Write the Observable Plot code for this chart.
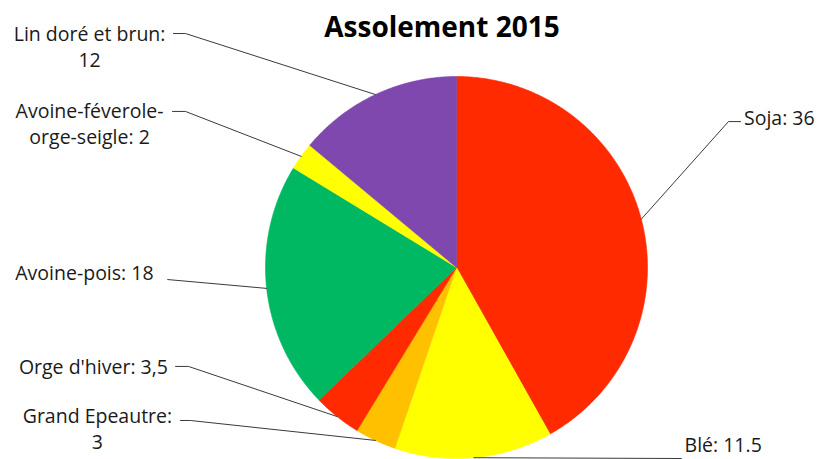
<!DOCTYPE html>
<html>
<head>
<meta charset="utf-8">
<script src="https://cdn.jsdelivr.net/npm/d3@7"></script>
<script src="https://cdn.jsdelivr.net/npm/@observablehq/plot@0.6"></script>
<style>
  html, body { margin: 0; padding: 0; background: #fff; }
  #chart svg { display: block; }
</style>
</head>
<body>
<div id="chart"></div>
<script>
// ---- data ----
const title = "Assolement 2015";
const categories = ["Soja", "Blé", "Grand Epeautre", "Orge d'hiver", "Avoine-pois", "Avoine-féverole-orge-seigle", "Lin doré et brun"];
const values = [36, 11.5, 3, 3.5, 18, 2, 12];
const valueLabels = ["36", "11.5", "3", "3,5", "18", "2", "12"];
const labelTexts = ["Soja: 36", "Blé: 11.5", "Grand Epeautre:\n3", "Orge d'hiver: 3,5", "Avoine-pois: 18", "Avoine-féverole-\norge-seigle: 2", "Lin doré et brun:\n12"];
const colors = ["#FF2A00", "#FFFF00", "#FFC000", "#FF2A00", "#00B862", "#FFFF00", "#7F48AE"];

// ---- layout (label placement in radius units) ----
const labelLayout = [
  {elbow: [1.424, 0.764], end: [1.487, 0.764], text: [1.505, 0.777], anchor: "start"},
  {elbow: [1.178, -1.0], end: [1.178, -1.0], text: [1.194, -0.932], anchor: "start"},
  {elbow: [-1.393, -0.801], end: [-1.445, -0.801], text: [-1.880, -0.838], anchor: "middle"},
  {elbow: [-1.403, -0.518], end: [-1.471, -0.518], text: [-1.901, -0.516], anchor: "middle"},
  {elbow: [-1.513, -0.063], end: [-1.513, -0.063], text: [-1.948, -0.019], anchor: "middle"},
  {elbow: [-1.419, 0.817], end: [-1.487, 0.817], text: [-1.921, 0.759], anchor: "middle"},
  {elbow: [-1.419, 1.225], end: [-1.482, 1.225], text: [-1.921, 1.162], anchor: "middle"}
];

// ---- build slices ----
const total = d3.sum(values);
let cum = 0;
const slicePts = [];
const leaderPts = [];
const labels = [];
categories.forEach((name, i) => {
  const a0 = cum / total * 2 * Math.PI;
  cum += values[i];
  const a1 = cum / total * 2 * Math.PI;
  const n = Math.max(2, Math.ceil((a1 - a0) / (Math.PI / 360)));
  slicePts.push({name, color: colors[i], x: 0, y: 0});
  for (let k = 0; k <= n; k++) {
    const a = a0 + (a1 - a0) * k / n;
    slicePts.push({name, color: colors[i], x: Math.sin(a), y: Math.cos(a)});
  }
  slicePts.push({name, color: colors[i], x: 0, y: 0});
  const am = (a0 + a1) / 2;
  const L = labelLayout[i];
  leaderPts.push({name, x: Math.sin(am), y: Math.cos(am)});
  leaderPts.push({name, x: L.elbow[0], y: L.elbow[1]});
  leaderPts.push({name, x: L.end[0], y: L.end[1]});
  labels.push({name, text: labelTexts[i], x: L.text[0], y: L.text[1], anchor: L.anchor});
});

const font = "'Open Sans', 'Noto Sans', sans-serif";

const chart = Plot.plot({
  width: 822,
  height: 459,
  margin: 0,
  style: {fontFamily: font, background: "#fff", overflow: "visible"},
  x: {domain: [-1, 1], range: [265, 647], axis: null},
  y: {domain: [-1, 1], range: [458, 76], axis: null},
  color: {type: "identity"},
  marks: [
    Plot.line(slicePts, {x: "x", y: "y", z: "name", fill: "color", stroke: "color", strokeWidth: 0.6, curve: "linear"}),
    Plot.line(leaderPts, {x: "x", y: "y", z: "name", stroke: "#3a3a3a", strokeWidth: 1, curve: "linear"}),
    Plot.text(labels.filter(d => d.anchor === "middle"), {x: "x", y: "y", text: "text", textAnchor: "middle", lineAnchor: "middle", fontSize: 19.5, lineHeight: 1.35, fill: "#1a1a1a"}),
    Plot.text(labels.filter(d => d.anchor === "start"), {x: "x", y: "y", text: "text", textAnchor: "start", lineAnchor: "middle", fontSize: 19.5, fill: "#1a1a1a"}),
    Plot.text([title], {x: () => -0.076, y: () => 1.253, text: d => d, fontSize: 28, fontWeight: "bold", fill: "#000"})
  ]
});
document.getElementById("chart").appendChild(chart);
</script>
</body>
</html>
